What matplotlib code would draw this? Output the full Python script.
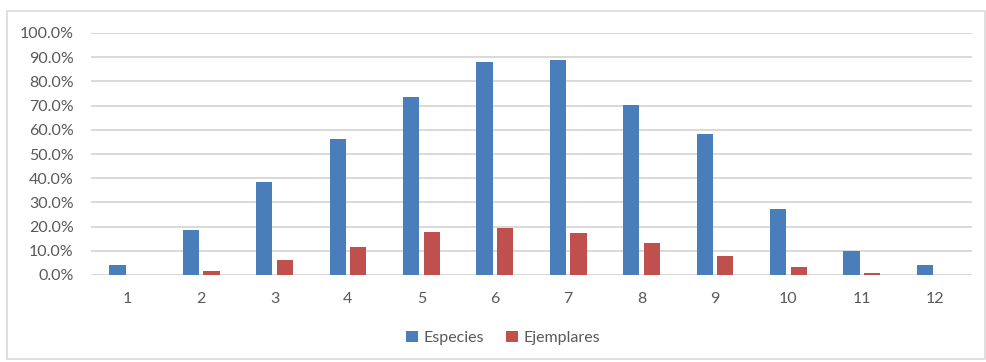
import matplotlib
matplotlib.use("Agg")
import matplotlib.pyplot as plt
from matplotlib.patches import Rectangle
from matplotlib.ticker import FuncFormatter, MultipleLocator

categories = [1, 2, 3, 4, 5, 6, 7, 8, 9, 10, 11, 12]
especies = [4.1, 18.5, 38.4, 56.1, 73.6, 87.9, 88.8, 70.2, 58.3, 27.3, 9.9, 4.1]
ejemplares = [0.0, 1.7, 6.2, 11.4, 17.6, 19.6, 17.2, 13.2, 7.7, 3.2, 0.8, 0.0]
series_names = ["Especies", "Ejemplares"]

plt.rcParams["font.family"] = ["Lato", "DejaVu Sans"]

W, H = 986, 362
fig = plt.figure(figsize=(W / 100, H / 100), dpi=100)
fig.patch.set_facecolor("white")

# outer chart frame
fig.patches.append(Rectangle((7 / W, 1 - 359 / H), (985 - 7) / W, (359 - 11) / H,
                             transform=fig.transFigure, fill=False,
                             edgecolor="#d9d9d9", linewidth=1.2))

ax = fig.add_axes([91 / W, 1 - 275 / H, (972 - 91) / W, (275 - 33) / H])

blue = "#4a7ebb"
red = "#c0504d"
width = 0.222
offset = 0.14
x = list(range(len(categories)))
ax.bar([i - offset for i in x], especies, width=width, color=blue,
       label=series_names[0], zorder=3)
ax.bar([i + offset for i in x], ejemplares, width=width, color=red,
       label=series_names[1], zorder=3)

ax.set_xlim(-0.5, len(categories) - 0.5)
ax.set_ylim(0, 100)
ax.yaxis.set_major_locator(MultipleLocator(10))
ax.yaxis.set_major_formatter(FuncFormatter(lambda v, p: f"{v:.1f}%"))
ax.set_xticks(x)
ax.set_xticklabels([str(c) for c in categories])

ax.grid(axis="y", color="#d9d9d9", linewidth=1.4, zorder=0)
ax.set_axisbelow(True)
for s in ax.spines.values():
    s.set_visible(False)
ax.tick_params(axis="both", length=0, labelsize=11.5, colors="#595959")
ax.tick_params(axis="y", pad=12.5)
ax.tick_params(axis="x", pad=12.5)

fig.legend(loc="center", bbox_to_anchor=(503 / W, 1 - 338 / H), ncol=2,
           frameon=False, fontsize=11.5, labelcolor="#595959",
           handlelength=0.75, handleheight=0.75, handletextpad=0.35,
           columnspacing=1.4)

fig.savefig("out.png", dpi=100)
